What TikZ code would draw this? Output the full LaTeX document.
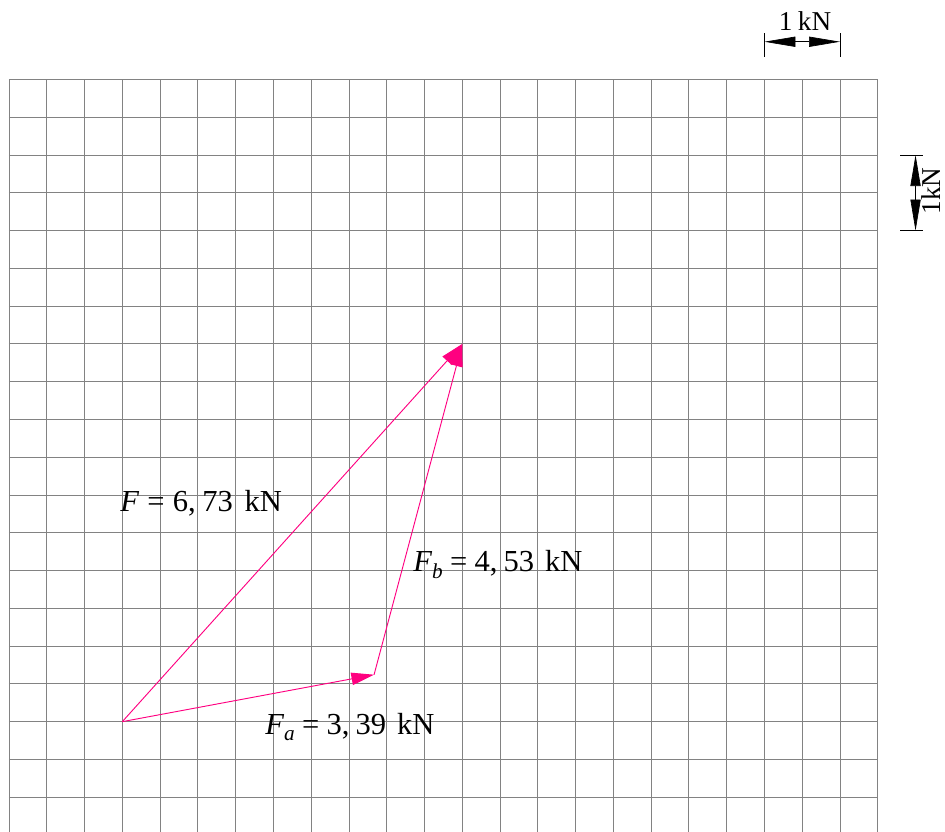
\documentclass[tikz,border=0pt]{standalone}
\usepackage{fontspec}
\setmainfont{Liberation Serif}
\usetikzlibrary{arrows.meta}
\definecolor{vecpink}{RGB}{255,0,128}
\definecolor{gridgray}{RGB}{130,130,130}
\newcommand{\subl}[1]{\raisebox{-5pt}{\fontsize{16}{18}\selectfont\textit{#1}}}
\begin{document}
\begin{tikzpicture}[
  gridline/.style={draw=gridgray, line width=0.65pt},
  vec/.style={draw=vecpink, line width=0.7pt, -{Triangle[length=0.6cm,width=0.33cm]}},
  dimline/.style={draw=black, line width=0.5pt, {Triangle[length=0.82cm,width=0.27cm]}-{Triangle[length=0.82cm,width=0.27cm]}},
  dimtick/.style={draw=black, line width=0.5pt},
  lab/.style={font=\fontsize{23}{27}\selectfont, inner sep=0pt, anchor=base west},
  scalelab/.style={font=\fontsize{20.5}{24}\selectfont, inner sep=0pt, anchor=base},
]
\clip (-0.238,2.105) rectangle (24.78,-19.897);
\useasboundingbox (-0.238,2.105) rectangle (24.78,-19.897);
% grid
\draw[gridline] (0,0) grid (23,-20);
% vector points
\coordinate (O) at (3,-17);
\coordinate (A) at (9.665,-15.757);
\coordinate (B) at (12,-7);
\draw[vec] (O) -- (A);
\draw[vec] (A) -- (B);
\draw[vec] (O) -- (B);
% labels
\node[lab] (lF) at (2.939,-11.443) {\textit{F}\hspace{0.27em}=\hspace{0.27em}6,\hspace{0.22em}73\hspace{0.38em}kN};
\node[lab] (lFb) at (10.696,-13.032) {\textit{F}\subl{b}\hspace{0.24em}=\hspace{0.24em}4,\hspace{0.2em}53\hspace{0.36em}kN};
\node[lab] (lFa) at (6.778,-17.329) {\textit{F}\subl{a}\hspace{0.24em}=\hspace{0.24em}3,\hspace{0.2em}39\hspace{0.36em}kN};
% horizontal scale bar
\coordinate (h1) at (20,1);
\coordinate (h2) at (22,1);
\coordinate (h1t) at (20,1.231);
\coordinate (h1b) at (20,0.596);
\coordinate (h2t) at (22,1.231);
\coordinate (h2b) at (22,0.596);
\draw[dimtick] (h1t) -- (h1b);
\draw[dimtick] (h2t) -- (h2b);
\draw[dimline] (h1) -- (h2);
\node[scalelab] (lh) at (21.075,1.292) {1\hspace{0.2em}kN};
% vertical scale bar
\coordinate (v1) at (24,-2);
\coordinate (v2) at (24,-4);
\coordinate (v1l) at (23.59,-2);
\coordinate (v1r) at (24.19,-2);
\coordinate (v2l) at (23.59,-4);
\coordinate (v2r) at (24.19,-4);
\draw[dimtick] (v1l) -- (v1r);
\draw[dimtick] (v2l) -- (v2r);
\draw[dimline] (v1) -- (v2);
\node[scalelab, rotate=90] (lv) at (24.66,-2.952) {1kN};
\end{tikzpicture}
\end{document}
